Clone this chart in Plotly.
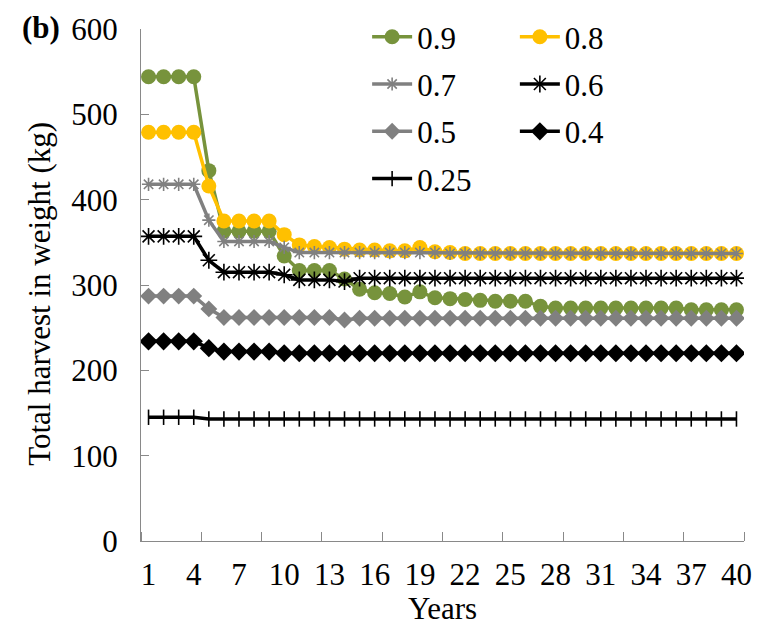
import plotly.graph_objects as go

years = list(range(1, 41))

h09 = [544, 544, 544, 544, 434, 363, 363, 363, 363, 334, 317, 317, 317, 307, 295, 291, 290, 286, 292, 285,
       284, 283, 282, 281, 281, 281, 275, 273, 273, 273, 273, 273, 273, 273, 273, 273, 271, 271, 271, 271]
h08 = [479, 479, 479, 479, 416, 375, 375, 375, 375, 359, 347, 345, 344, 342, 341, 341, 340, 340, 344, 339,
       338] + [337] * 19
h07 = [418, 418, 418, 418, 376, 351, 351, 351, 351, 344] + [338] * 10 + [337] * 20
h06 = [357, 357, 357, 357, 329, 315, 315, 315, 315, 312, 306, 306, 306, 304] + [308] * 26
h05 = [287, 287, 287, 287, 272] + [262] * 8 + [259] + [261] * 26
h04 = [234, 234, 234, 234, 226, 222, 222, 222, 222] + [220] * 31
h025 = [145, 145, 145, 145] + [143] * 36

x_tick_labels = [1, 4, 7, 10, 13, 16, 19, 22, 25, 28, 31, 34, 37, 40]
y_ticks = [0, 100, 200, 300, 400, 500, 600]

FONT = "Liberation Serif, Times New Roman, serif"
FS = 31
GREEN = "#77933C"
YELLOW = "#FFC000"
GRAY = "#808080"
BLACK = "#000000"

series = [
    ("0.9", h09, GREEN, "circle", 15, "legend", None),
    ("0.8", h08, YELLOW, "circle", 15, "legend2", None),
    ("0.7", h07, GRAY, "asterisk-open", 11, "legend", GRAY),
    ("0.6", h06, BLACK, "asterisk-open", 14, "legend2", BLACK),
    ("0.5", h05, GRAY, "diamond", 13, "legend", None),
    ("0.4", h04, BLACK, "diamond", 14, "legend2", None),
    ("0.25", h025, BLACK, "line-ns-open", 11, "legend", BLACK),
]

fig = go.Figure()
for name, vals, color, sym, size, leg, lc in series:
    marker = dict(symbol=sym, size=size, color=color)
    if lc is not None:
        marker["line"] = dict(color=lc, width=1.6)
    fig.add_trace(go.Scatter(
        x=years, y=vals, name=name, mode="lines+markers",
        line=dict(color=color, width=3.5), marker=marker,
        legend=leg, legendgroup=name,
    ))

axis_color = "#898989"
tf = dict(family=FONT, size=FS, color="black")
PW, PH, PL, PB = 610.7, 516.7, 141, 540.7
fig.update_layout(
    width=762, height=626,
    margin=dict(l=141, r=10, t=24, b=85),
    paper_bgcolor="white", plot_bgcolor="white",
    font=tf,
    showlegend=True,
    legend=dict(x=0.375, y=1.037, xanchor="left", yanchor="top",
                bgcolor="rgba(0,0,0,0)", font=tf,
                tracegroupgap=4, itemwidth=40),
    legend2=dict(x=0.62, y=1.037, xanchor="left", yanchor="top",
                 bgcolor="rgba(0,0,0,0)", font=tf,
                 tracegroupgap=4, itemwidth=40),
    xaxis=dict(
        range=[0.5, 40.5], tickmode="array", tickvals=x_tick_labels,
        ticktext=[str(v) for v in x_tick_labels], ticks="", showgrid=False,
        showline=True, linecolor=axis_color, linewidth=1.3, zeroline=False,
        ticklabelstandoff=6, tickfont=tf,
        minor=dict(ticks="inside", tick0=0.5, dtick=4, ticklen=9,
                   tickcolor=axis_color, tickwidth=1.3, showgrid=False),
        title=dict(text="Years", font=tf, standoff=2),
    ),
    yaxis=dict(
        range=[0, 600], tickmode="array", tickvals=y_ticks,
        ticks="inside", ticklen=8, tickcolor=axis_color, tickwidth=1.3,
        showgrid=False, showline=True, linecolor=axis_color, linewidth=1.3,
        zeroline=False, ticklabelstandoff=16, tickfont=tf,
    ),
)
fig.add_annotation(text="Total harvest in weight (kg)", xref="paper", yref="paper",
                   x=(38 - PL) / PW, y=(PB - 291) / PH, textangle=-90,
                   xanchor="center", yanchor="middle", showarrow=False, font=tf)
fig.add_annotation(text="<b>(b)</b>", xref="paper", yref="paper",
                   x=(40 - PL) / PW, y=1.0 + 2 / PH,
                   xanchor="center", yanchor="middle", showarrow=False,
                   font=dict(family=FONT, size=31, color="black"))

fig.write_html("out.html")
